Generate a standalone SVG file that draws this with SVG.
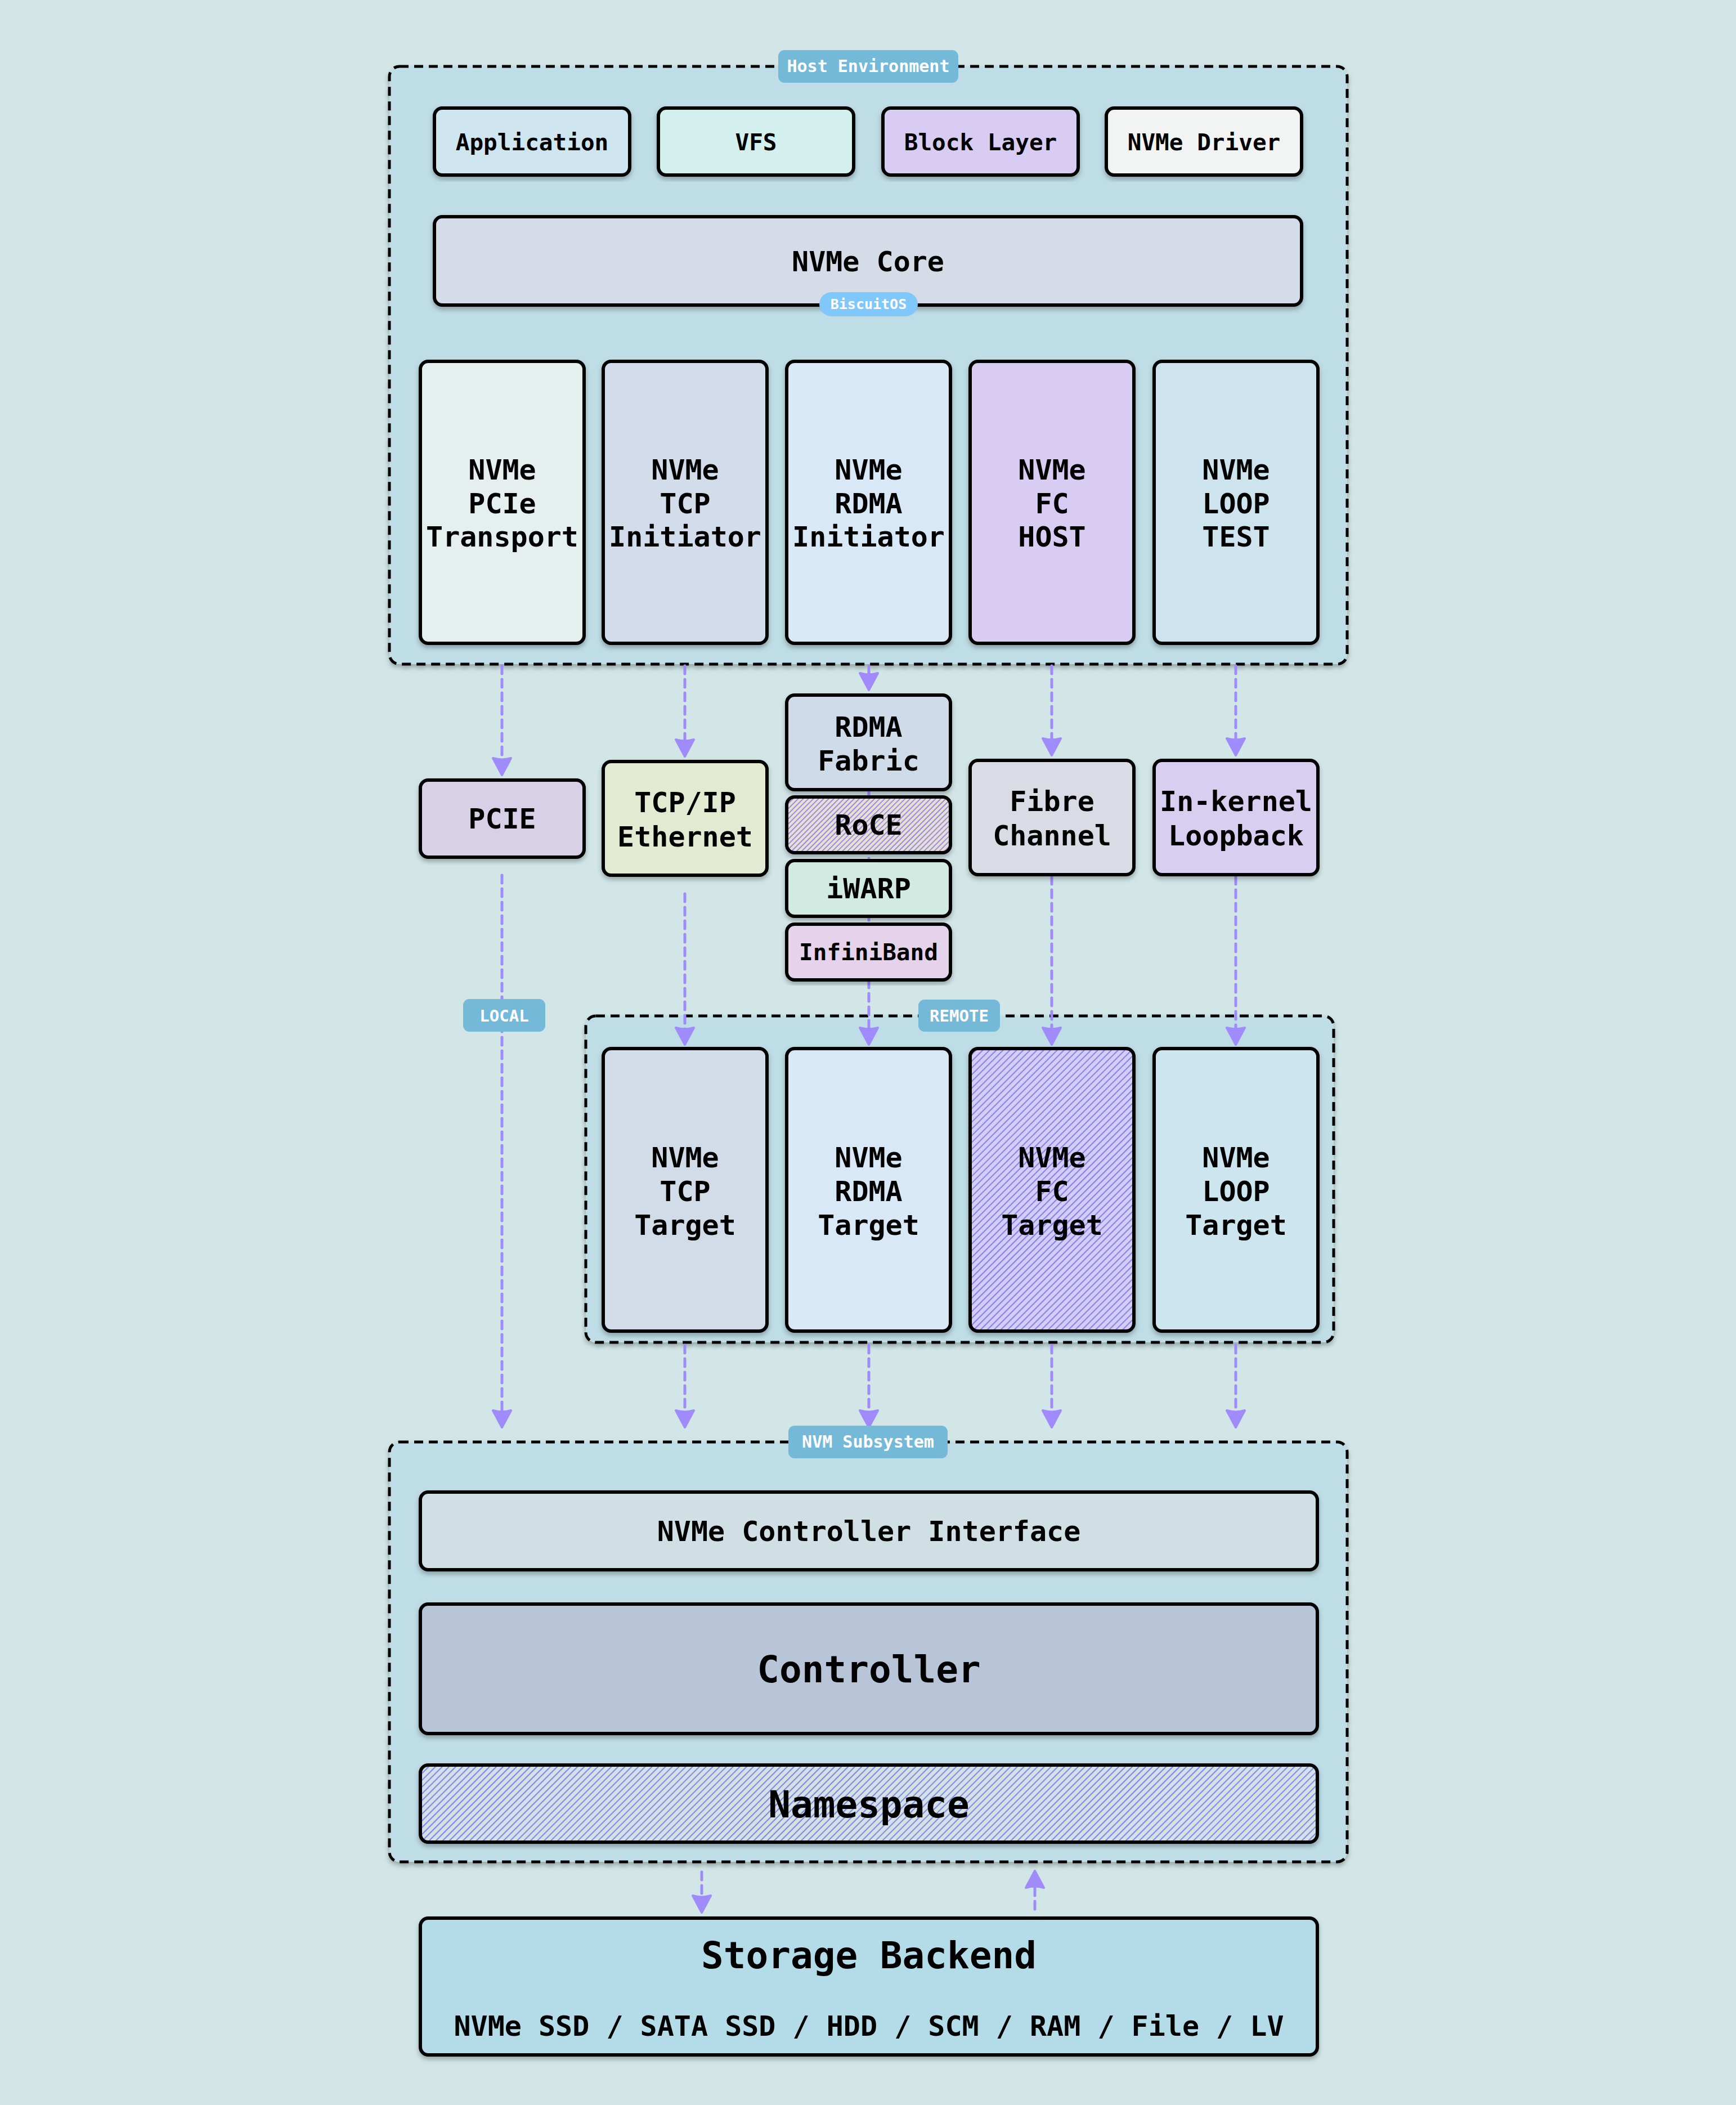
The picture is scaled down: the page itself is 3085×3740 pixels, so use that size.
<svg xmlns="http://www.w3.org/2000/svg" width="3085" height="3740" viewBox="0 0 3085 3740">
<style>
.bg{fill:#d2e6e8}
.cont{fill:#bfdde6;stroke:#000;stroke-width:5;stroke-dasharray:16 10;filter:url(#sh)}
.box{stroke:#000;stroke-width:6;filter:url(#sh)}
.t{font-family:"DejaVu Sans Mono","Liberation Mono",monospace;font-weight:bold;fill:#000;text-anchor:middle}
.badge{fill:#74b9d8}
.bt{font-family:"DejaVu Sans Mono","Liberation Mono",monospace;font-weight:bold;fill:#fff;text-anchor:middle}
.e{fill:none;stroke:#a08bfb;stroke-width:5;stroke-dasharray:14 10;stroke-linecap:round;marker-end:url(#ah)}
</style>
<defs>
<filter id="sh" x="-5%" y="-5%" width="110%" height="115%">
<feDropShadow dx="0" dy="5" stdDeviation="4" flood-color="#000" flood-opacity="0.28"/>
</filter>
<marker id="ah" viewBox="0 0 36 38" markerUnits="userSpaceOnUse" markerWidth="36" markerHeight="38" refX="20" refY="19" orient="auto">
<path d="M3,3 L33,19 L3,35 Q8,19 3,3 Z" fill="#a08bfb" stroke="#a08bfb" stroke-width="4" stroke-linejoin="round"/>
</marker>
<pattern id="hRoce" width="6.4" height="6.4" patternUnits="userSpaceOnUse" patternTransform="rotate(45)">
<rect width="6.4" height="6.4" fill="#ebe0d0"/>
<line x1="3.2" y1="0" x2="3.2" y2="6.4" stroke="#6b6bf5" stroke-width="1.4"/>
</pattern>
<pattern id="hFc" width="8.5" height="8.5" patternUnits="userSpaceOnUse" patternTransform="rotate(45)">
<rect width="8.5" height="8.5" fill="#d6cef2"/>
<line x1="4.25" y1="0" x2="4.25" y2="8.5" stroke="#6b6bf0" stroke-width="1.6"/>
</pattern>
<pattern id="hNs" width="8.5" height="8.5" patternUnits="userSpaceOnUse" patternTransform="rotate(45)">
<rect width="8.5" height="8.5" fill="#d5e2e4"/>
<line x1="4.25" y1="0" x2="4.25" y2="8.5" stroke="#6b6bf0" stroke-width="1.6"/>
</pattern>
</defs>
<rect class="bg" x="0" y="0" width="3085" height="3740"/>

<g id="host-environment">
<rect class="cont" x="692" y="118" width="1702" height="1062" rx="18"/>
</g>
<g id="remote">
<rect class="cont" x="1041" y="1805" width="1329" height="580" rx="18"/>
</g>
<g id="nvm-subsystem">
<rect class="cont" x="692" y="2562" width="1702" height="746" rx="18"/>
</g>

<g id="connectors">
<path class="e" d="M892,1183 V1364"/>
<path class="e" d="M1217,1183 V1331"/>
<path class="e" d="M1544,1183 V1213"/>
<path class="e" d="M1869,1183 V1329"/>
<path class="e" d="M2196,1183 V1329"/>
<path class="e" d="M892,1555 V2523"/>
<path class="e" d="M1217,1588 V1843"/>
<path class="e" d="M1544,1405 V1843"/>
<path class="e" d="M1869,1557 V1843"/>
<path class="e" d="M2196,1557 V1843"/>
<path class="e" d="M1217,2390 V2523"/>
<path class="e" d="M1544,2390 V2523"/>
<path class="e" d="M1869,2390 V2523"/>
<path class="e" d="M2196,2390 V2523"/>
<path class="e" d="M1247,3326 V3385"/>
<path class="e" d="M1839,3392 V3337"/>
</g>

<g id="application"><rect class="box" x="772" y="192" width="347" height="119" rx="14" fill="#cfe5f0"/><text class="t" x="945.5" y="267" font-size="41">Application</text></g>
<g id="vfs"><rect class="box" x="1170" y="192" width="347" height="119" rx="14" fill="#d3f0ee"/><text class="t" x="1343.5" y="267" font-size="41">VFS</text></g>
<g id="block-layer"><rect class="box" x="1569" y="192" width="347" height="119" rx="14" fill="#d8ccf2"/><text class="t" x="1742.5" y="267" font-size="41">Block Layer</text></g>
<g id="nvme-driver"><rect class="box" x="1966" y="192" width="347" height="119" rx="14" fill="#f2f3f3"/><text class="t" x="2139.5" y="267" font-size="41">NVMe Driver</text></g>
<g id="nvme-core"><rect class="box" x="772" y="385" width="1541" height="157" rx="14" fill="#d5dce7"/><text class="t" x="1542.5" y="482" font-size="50">NVMe Core</text></g>

<g id="nvme-pcie-transport"><rect class="box" x="747" y="642" width="291" height="501" rx="14" fill="#e5efee"/><text class="t" font-size="50"><tspan x="892.5" y="852">NVMe</tspan><tspan x="892.5" y="912">PCIe</tspan><tspan x="892.5" y="971">Transport</tspan></text></g>
<g id="nvme-tcp-initiator"><rect class="box" x="1072" y="642" width="291" height="501" rx="14" fill="#d2dcea"/><text class="t" font-size="50"><tspan x="1217.5" y="852">NVMe</tspan><tspan x="1217.5" y="912">TCP</tspan><tspan x="1217.5" y="971">Initiator</tspan></text></g>
<g id="nvme-rdma-initiator"><rect class="box" x="1398" y="642" width="291" height="501" rx="14" fill="#d8e8f6"/><text class="t" font-size="50"><tspan x="1543.5" y="852">NVMe</tspan><tspan x="1543.5" y="912">RDMA</tspan><tspan x="1543.5" y="971">Initiator</tspan></text></g>
<g id="nvme-fc-host"><rect class="box" x="1724" y="642" width="291" height="501" rx="14" fill="#d8ccf2"/><text class="t" font-size="50"><tspan x="1869.5" y="852">NVMe</tspan><tspan x="1869.5" y="912">FC</tspan><tspan x="1869.5" y="971">HOST</tspan></text></g>
<g id="nvme-loop-test"><rect class="box" x="2051" y="642" width="291" height="501" rx="14" fill="#cde4ef"/><text class="t" font-size="50"><tspan x="2196.5" y="852">NVMe</tspan><tspan x="2196.5" y="912">LOOP</tspan><tspan x="2196.5" y="971">TEST</tspan></text></g>

<g id="pcie"><rect class="box" x="747" y="1386" width="291" height="137" rx="14" fill="#d7d0e6"/><text class="t" x="892.5" y="1472" font-size="50">PCIE</text></g>
<g id="tcp-ip-ethernet"><rect class="box" x="1072" y="1353" width="291" height="202" rx="14" fill="#e2ead1"/><text class="t" font-size="50"><tspan x="1217.5" y="1443">TCP/IP</tspan><tspan x="1217.5" y="1504">Ethernet</tspan></text></g>
<g id="rdma-fabric"><rect class="box" x="1398" y="1235" width="291" height="168" rx="14" fill="#d0dbea"/><text class="t" font-size="50"><tspan x="1543.5" y="1309">RDMA</tspan><tspan x="1543.5" y="1369">Fabric</tspan></text></g>
<g id="roce"><rect class="box" x="1398" y="1416" width="291" height="99" rx="14" fill="url(#hRoce)"/><text class="t" x="1543.5" y="1483" font-size="50">RoCE</text></g>
<g id="iwarp"><rect class="box" x="1398" y="1529" width="291" height="99" rx="14" fill="#d2ebe2"/><text class="t" x="1543.5" y="1596" font-size="50">iWARP</text></g>
<g id="infiniband"><rect class="box" x="1398" y="1642" width="291" height="99" rx="14" fill="#e5d3ec"/><text class="t" x="1543.5" y="1706" font-size="41">InfiniBand</text></g>
<g id="fibre-channel"><rect class="box" x="1724" y="1351" width="291" height="203" rx="14" fill="#d9dce4"/><text class="t" font-size="50"><tspan x="1869.5" y="1441">Fibre</tspan><tspan x="1869.5" y="1502">Channel</tspan></text></g>
<g id="in-kernel-loopback"><rect class="box" x="2051" y="1351" width="291" height="203" rx="14" fill="#d8cef0"/><text class="t" font-size="50"><tspan x="2196.5" y="1441">In-kernel</tspan><tspan x="2196.5" y="1502">Loopback</tspan></text></g>

<g id="nvme-tcp-target"><rect class="box" x="1072" y="1863" width="291" height="502" rx="14" fill="#d2dbe8"/><text class="t" font-size="50"><tspan x="1217.5" y="2074">NVMe</tspan><tspan x="1217.5" y="2134">TCP</tspan><tspan x="1217.5" y="2194">Target</tspan></text></g>
<g id="nvme-rdma-target"><rect class="box" x="1398" y="1863" width="291" height="502" rx="14" fill="#d8e8f6"/><text class="t" font-size="50"><tspan x="1543.5" y="2074">NVMe</tspan><tspan x="1543.5" y="2134">RDMA</tspan><tspan x="1543.5" y="2194">Target</tspan></text></g>
<g id="nvme-fc-target"><rect class="box" x="1724" y="1863" width="291" height="502" rx="14" fill="url(#hFc)"/><text class="t" font-size="50"><tspan x="1869.5" y="2074">NVMe</tspan><tspan x="1869.5" y="2134">FC</tspan><tspan x="1869.5" y="2194">Target</tspan></text></g>
<g id="nvme-loop-target"><rect class="box" x="2051" y="1863" width="291" height="502" rx="14" fill="#cce5ef"/><text class="t" font-size="50"><tspan x="2196.5" y="2074">NVMe</tspan><tspan x="2196.5" y="2134">LOOP</tspan><tspan x="2196.5" y="2194">Target</tspan></text></g>

<g id="nvme-controller-interface"><rect class="box" x="747" y="2651" width="1594" height="138" rx="14" fill="#cfdfe4"/><text class="t" x="1544" y="2738" font-size="50">NVMe Controller Interface</text></g>
<g id="controller"><rect class="box" x="747" y="2850" width="1594" height="230" rx="14" fill="#b8c5d8"/><text class="t" x="1544" y="2989" font-size="66">Controller</text></g>
<g id="namespace"><rect class="box" x="747" y="3136" width="1594" height="137" rx="14" fill="url(#hNs)"/><text class="t" x="1544" y="3229" font-size="66">Namespace</text></g>
<g id="storage-backend"><rect class="box" x="747" y="3408" width="1594" height="243" rx="14" fill="#b3dce8"/><text class="t" x="1544" y="3497" font-size="66">Storage Backend</text><text class="t" x="1544" y="3617" font-size="50">NVMe SSD / SATA SSD / HDD / SCM / RAM / File / LV</text></g>

<g id="labels">
<rect class="badge" x="1383" y="89" width="320" height="58" rx="11"/><text class="bt" x="1543" y="128" font-size="30">Host Environment</text>
<rect x="1456" y="519" width="175" height="43" rx="21.5" fill="#80c8fc"/><text class="bt" x="1543.5" y="549" font-size="25">BiscuitOS</text>
<rect class="badge" x="823" y="1775" width="146" height="58" rx="11"/><text class="bt" x="896" y="1815" font-size="29">LOCAL</text>
<rect class="badge" x="1632" y="1776" width="145" height="57" rx="11"/><text class="bt" x="1704.5" y="1815" font-size="29">REMOTE</text>
<rect class="badge" x="1401" y="2533" width="283" height="58" rx="11"/><text class="bt" x="1542.5" y="2572" font-size="30">NVM Subsystem</text>
</g>
</svg>
